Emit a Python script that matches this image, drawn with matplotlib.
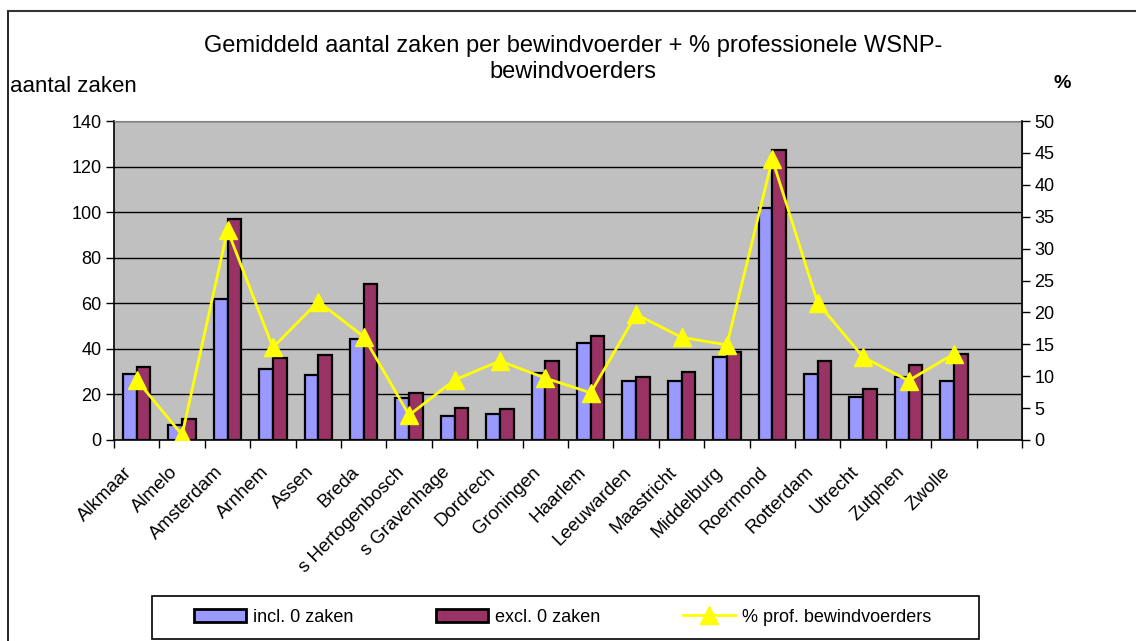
import matplotlib
matplotlib.use("Agg")
import matplotlib.pyplot as plt
import matplotlib.transforms as mtransforms
import numpy as np
from matplotlib.patches import Rectangle
from matplotlib.lines import Line2D

plt.rcParams['font.family'] = ['Liberation Sans', 'DejaVu Sans']

categories = ["Alkmaar", "Almelo", "Amsterdam", "Arnhem", "Assen", "Breda",
              "s Hertogenbosch", "s Gravenhage", "Dordrech", "Groningen",
              "Haarlem", "Leeuwarden", "Maastricht", "Middelburg", "Roermond",
              "Rotterdam", "Utrecht", "Zutphen", "Zwolle"]
incl_zero = [29.0, 6.6, 61.7, 31.0, 28.4, 44.2, 18.6, 10.5, 11.4, 29.2,
             42.4, 26.0, 26.0, 36.4, 101.7, 29.0, 19.0, 27.8, 25.7]
excl_zero = [31.9, 9.2, 96.8, 36.0, 37.2, 68.4, 20.6, 14.2, 13.8, 34.5,
             45.6, 27.8, 29.8, 38.5, 127.2, 34.8, 22.2, 33.0, 37.7]
pct_prof = [9.4, 0.8, 32.9, 14.5, 21.7, 16.2, 3.9, 9.4, 12.4, 9.7,
            7.4, 19.7, 16.1, 14.9, 44.0, 21.5, 13.0, 9.3, 13.5]

left_ticks = list(range(0, 141, 20))
right_ticks = list(range(0, 51, 5))

W, H = 1136, 641
fig = plt.figure(figsize=(W / 100, H / 100), dpi=100)

# outer border
fig.add_artist(Line2D([8 / W, 8 / W], [0, 1 - 11 / H], transform=fig.transFigure, color='black', lw=1.2))
fig.add_artist(Line2D([8 / W, 1], [1 - 11 / H, 1 - 11 / H], transform=fig.transFigure, color='#333333', lw=1.5))

ax = fig.add_axes([114 / W, (H - 440) / H, 908 / W, 319 / H])
ax.set_facecolor('#C0C0C0')
x = np.arange(len(categories))
bw = 0.3
blue = '#9999FF'
red = '#993366'
ax.bar(x - bw / 2, incl_zero, bw, color=blue, edgecolor='black', linewidth=1.6, zorder=3)
ax.bar(x + bw / 2, excl_zero, bw, color=red, edgecolor='black', linewidth=1.6, zorder=3)
ax.set_xlim(-0.5, 19.5)
ax.set_ylim(0, 140)
ax.set_yticks(left_ticks)
ax.tick_params(axis='y', labelsize=13, direction='out', length=6, width=1, pad=3)
ax.yaxis.grid(True, color='black', linewidth=1, zorder=1)
ax.set_axisbelow(True)
ax.set_xticks(np.arange(-0.5, 20.0, 1.0))
ax.set_xticklabels([])
ax.tick_params(axis='x', direction='out', length=6, width=1)
ax.set_xticks(x, minor=True)
ax.set_xticklabels(categories, minor=True, rotation=45, ha='right', va='top',
                   rotation_mode='anchor', fontsize=13.5)
ax.tick_params(axis='x', which='minor', length=0, pad=17)
offset = mtransforms.ScaledTranslation(-13 / 100, 0, fig.dpi_scale_trans)
for lbl in ax.get_xticklabels(minor=True):
    lbl.set_transform(lbl.get_transform() + offset)
for s in ['top', 'right']:
    ax.spines[s].set_color('#808080')
ax.spines['left'].set_color('black')
ax.spines['bottom'].set_color('black')
ax.spines['left'].set_linewidth(1.2)
ax.spines['bottom'].set_linewidth(1.2)

ax2 = ax.twinx()
ax2.plot(x, pct_prof, color='#FFFF00', linewidth=2, marker='^', markersize=13,
         markerfacecolor='#FFFF00', markeredgecolor='#FFFF00', zorder=5)
ax2.set_ylim(0, 50)
ax2.set_yticks(right_ticks)
ax2.tick_params(axis='y', labelsize=13, direction='out', length=6, width=1, pad=3)
ax2.spines['right'].set_color('black')
ax2.spines['right'].set_linewidth(1.2)
ax2.spines['top'].set_visible(False)
ax2.spines['left'].set_visible(False)
ax2.spines['bottom'].set_visible(False)

fig.text(573 / W, 1 - 59 / H, "Gemiddeld aantal zaken per bewindvoerder + % professionele WSNP-\nbewindvoerders",
         ha='center', va='center', fontsize=17, linespacing=1.2)
fig.text(10 / W, 1 - 87 / H, "aantal zaken", ha='left', va='center', fontsize=16)
fig.text(1062 / W, 1 - 84 / H, "%", ha='center', va='center', fontsize=14, fontweight='bold')

# legend frame
fig.add_artist(Rectangle((152 / W, (H - 639) / H), 827 / W, 43 / H, transform=fig.transFigure,
                         facecolor='white', edgecolor='black', linewidth=1.2))
handles = [Rectangle((0, 0), 1, 1, facecolor=blue, edgecolor='black', linewidth=2),
           Rectangle((0, 0), 1, 1, facecolor=red, edgecolor='black', linewidth=2),
           Line2D([], [], color='#FFFF00', linewidth=2, marker='^', markersize=13)]
labels = ["incl. 0 zaken", "excl. 0 zaken", "% prof. bewindvoerders"]
leg = fig.legend(handles, labels, loc='center left', bbox_to_anchor=(194 / W, (H - 617) / H),
                 ncol=3, frameon=False, fontsize=13, handlelength=2.9, handleheight=0.7,
                 handletextpad=0.35, columnspacing=4.6, borderpad=0, borderaxespad=0)

fig.savefig("out.png", dpi=100)
